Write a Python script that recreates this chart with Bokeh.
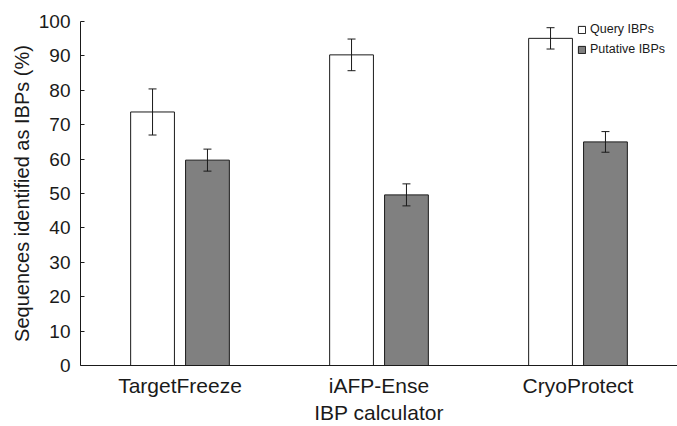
from bokeh.plotting import figure
from bokeh.models import ColumnDataSource, Range1d, Whisker, TeeHead, FixedTicker, Legend, LegendItem
from bokeh.embed import file_html
from bokeh.resources import INLINE

categories = ["TargetFreeze", "iAFP-Ense", "CryoProtect"]
query = [73.7, 90.3, 95.1]
query_err = [6.7, 4.6, 3.1]
putative = [59.7, 49.6, 65.0]
putative_err = [3.2, 3.2, 3.0]
y_ticks = [0, 10, 20, 30, 40, 50, 60, 70, 80, 90, 100]

OFF = 0.138
BW = 0.22
FONT = "Liberation Sans"
TXT = "#1a1a1a"

centers = [i + 0.5 for i in range(len(categories))]
src_q = ColumnDataSource(dict(
    x=[c - OFF for c in centers], top=query,
    upper=[v + e for v, e in zip(query, query_err)],
    lower=[v - e for v, e in zip(query, query_err)]))
src_p = ColumnDataSource(dict(
    x=[c + OFF for c in centers], top=putative,
    upper=[v + e for v, e in zip(putative, putative_err)],
    lower=[v - e for v, e in zip(putative, putative_err)]))

p = figure(width=677, height=426, output_backend="svg", toolbar_location=None,
           x_range=Range1d(0, 3.0), y_range=Range1d(0, 100),
           min_border_left=80, min_border_right=0, min_border_top=21, min_border_bottom=60)
p.outline_line_color = None
p.xgrid.visible = False
p.ygrid.visible = False
p.background_fill_color = "white"

r_q = p.vbar(x="x", top="top", width=BW, bottom=0, source=src_q,
             fill_color="white", line_color="#1a1a1a", line_width=1)
r_p = p.vbar(x="x", top="top", width=BW, bottom=0, source=src_p,
             fill_color="#808080", line_color="#1a1a1a", line_width=1)

for s in (src_q, src_p):
    w = Whisker(source=s, base="x", upper="upper", lower="lower", dimension="height",
                line_color="#1a1a1a", line_width=1, level="overlay",
                upper_head=TeeHead(size=8, line_color="#1a1a1a", line_width=1),
                lower_head=TeeHead(size=8, line_color="#1a1a1a", line_width=1))
    p.add_layout(w)

legend = Legend(items=[LegendItem(label="Query IBPs", renderers=[r_q]),
                       LegendItem(label="Putative IBPs", renderers=[r_p])],
                location=(497, 306), glyph_width=9, glyph_height=9, label_standoff=4,
                padding=0, spacing=0, margin=0, label_height=20,
                label_text_font=FONT, label_text_font_size="12.5px", label_text_color=TXT,
                border_line_color=None, background_fill_alpha=0)
p.add_layout(legend)

# y axis
p.yaxis.ticker = FixedTicker(ticks=y_ticks)
p.yaxis.minor_tick_line_color = None
p.yaxis.major_tick_in = 4
p.yaxis.major_tick_out = 0
p.yaxis.major_label_standoff = 10
p.yaxis.axis_line_color = "#1a1a1a"
p.yaxis.major_tick_line_color = "#1a1a1a"
p.yaxis.major_label_text_font = FONT
p.yaxis.major_label_text_font_size = "19px"
p.yaxis.major_label_text_color = TXT
p.yaxis.axis_label = "Sequences identified as IBPs (%)"
p.yaxis.axis_label_text_font = FONT
p.yaxis.axis_label_text_font_size = "20px"
p.yaxis.axis_label_text_font_style = "normal"
p.yaxis.axis_label_text_color = TXT
p.yaxis.axis_label_standoff = 3

# x axis
p.xaxis.ticker = FixedTicker(ticks=centers)
p.xaxis.major_label_overrides = {c: n for c, n in zip(centers, categories)}
p.xaxis.minor_tick_line_color = None
p.xaxis.major_tick_line_color = None
p.xaxis.major_tick_in = 0
p.xaxis.major_tick_out = 0
p.xaxis.major_label_standoff = 8
p.xaxis.axis_line_color = "#1a1a1a"
p.xaxis.major_label_text_font = FONT
p.xaxis.major_label_text_font_size = "21px"
p.xaxis.major_label_text_color = TXT
p.xaxis.axis_label = "IBP calculator"
p.xaxis.axis_label_text_font = FONT
p.xaxis.axis_label_text_font_size = "21px"
p.xaxis.axis_label_text_font_style = "normal"
p.xaxis.axis_label_text_color = TXT
p.xaxis.axis_label_standoff = 1

open("out.html", "w").write(file_html(p, INLINE))
